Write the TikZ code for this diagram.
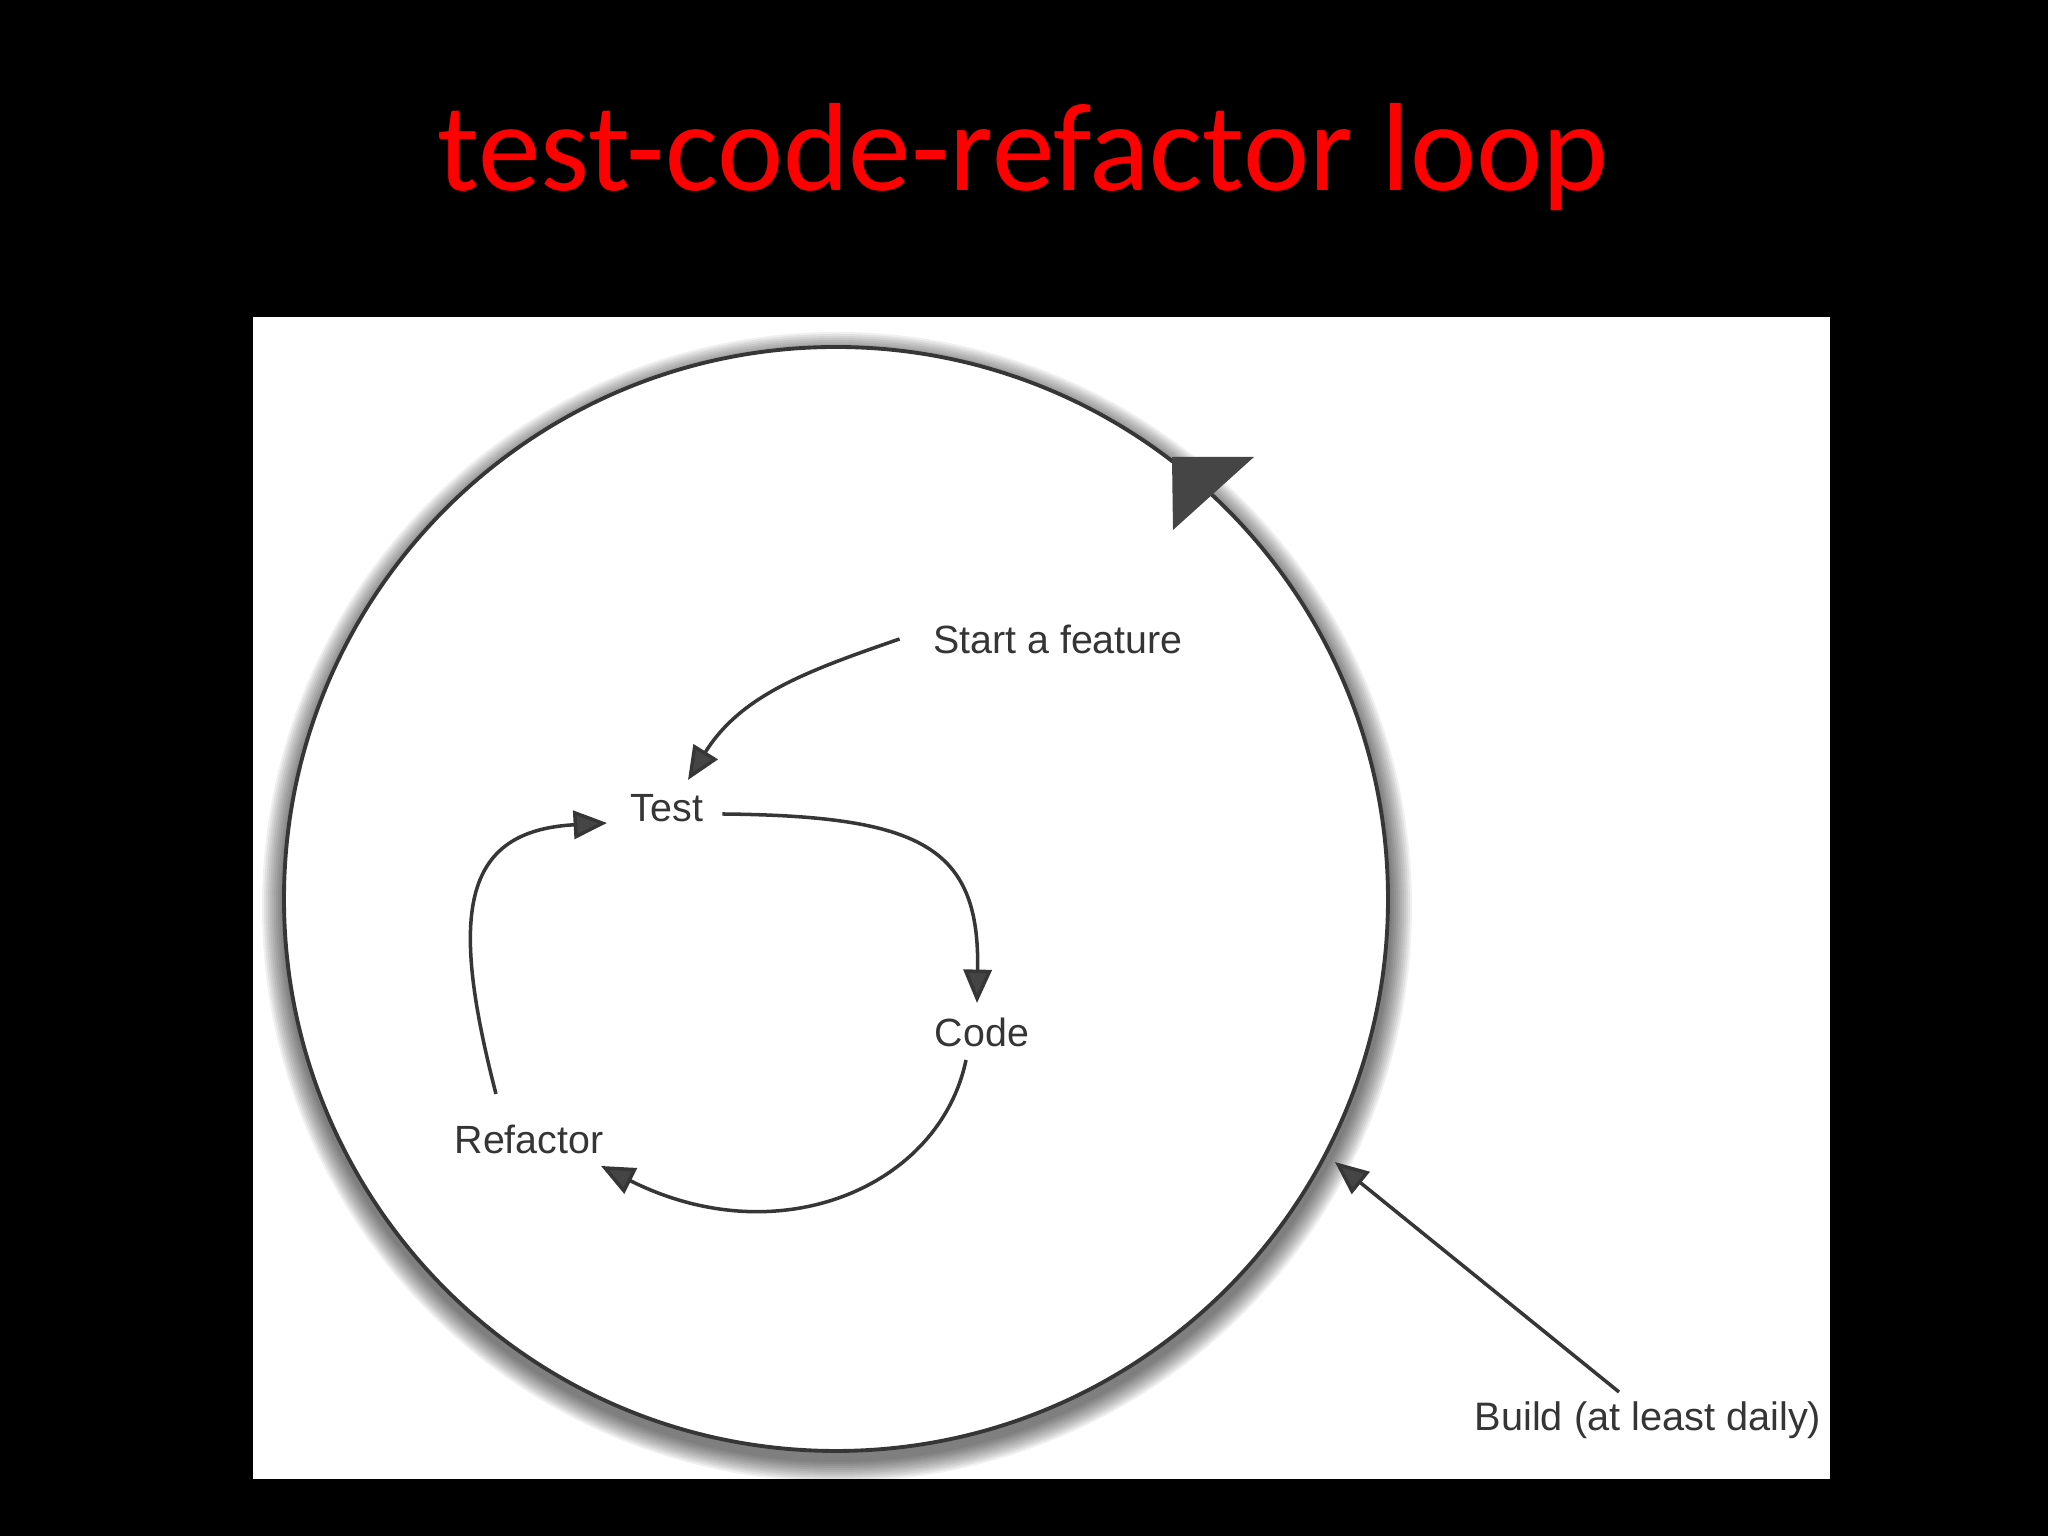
\documentclass[tikz,border=0pt]{standalone}
\usepackage{fontspec}
\setmainfont{Liberation Sans}
\newfontfamily\titlefont{Carlito}
\usepackage{tikz}
\usetikzlibrary{positioning,calc,arrows.meta}
\definecolor{Ink}{HTML}{363636}
\definecolor{InkText}{HTML}{353535}
\definecolor{TitleRed}{HTML}{FF0000}
\definecolor{Head}{HTML}{454545}

\begin{document}
\begin{tikzpicture}[
	flowlabel/.style={
		text=InkText,
		inner sep=0pt,
		font=\fontsize{11.2}{13}\selectfont
	},
	flowarrow/.style={
		draw=Ink,
		line width=1pt,
		-{Triangle[length=9.5pt,width=8pt,fill=Head]}
	}
	]
	
	% ---------------------------------------------------------
	% SLIDE
	% ---------------------------------------------------------
	
	\fill[black] (0,0) rectangle (20.48,15.36);
	
	\node[
	text=TitleRed,
	font=\titlefont\fontsize{35.7}{42}\selectfont,
	anchor=base,
	inner sep=0pt
	]
	(title) at (10.23,13.45)
	{test-code-refactor loop};
	
	\fill[white] (2.53,0.57) rectangle (18.30,12.19);
	
	% ---------------------------------------------------------
	% BUILD LOOP
	% ---------------------------------------------------------
	
	\begin{scope}
		\clip (2.53,0.57) rectangle (18.30,12.19);
		\foreach \i in {0,...,10}
		\fill[black,opacity=0.06] (8.37,6.29) circle ({5.75-0.02*\i});
	\end{scope}
	
	\node[
	circle,
	draw=Ink,
	fill=white,
	line width=1.1pt,
	minimum size=11.04cm,
	inner sep=0pt
	]
	(loop) at (8.36,6.37)
	{};
	
	% arrowhead on the loop
	\fill[Head]
	($(loop.center)+(3.36,4.42)$) -- ++(0.82,0) -- ++(-0.81,-0.73) -- cycle;
	
	% ---------------------------------------------------------
	% LABELS
	% ---------------------------------------------------------
	
	\node[flowlabel] (start) at (10.58,8.97) {Start a feature};
	
	\node[flowlabel] (test) at (6.67,7.28) {Test};
	
	\node[flowlabel] (code) at (9.82,5.04) {Code};
	
	\node[flowlabel] (refactor) at (5.29,3.97) {Refactor};
	
	\node[
	flowlabel,
	font=\fontsize{11.3}{14}\selectfont
	]
	(build) at (16.48,1.16)
	{Build (at least daily)};
	
	\coordinate (hit) at ($(loop.center)+(-27.8:5.64)$);
	
	% ---------------------------------------------------------
	% ARROWS
	% ---------------------------------------------------------
	
	\draw[flowarrow]
	([xshift=-3.3mm]start.west) to[out=199,in=58] ([shift={(0.21,0.28)}]test.center);
	
	\draw[flowarrow]
	([shift={(0.185,-0.06)}]test.east) .. controls +(1.98,-0.02) and +(0.03,1.57) .. ([shift={(-0.05,0.29)}]code.center);
	
	\draw[flowarrow]
	([shift={(-0.16,-0.28)}]code.center) .. controls +(-0.26,-1.26) and +(1.79,-0.90) .. ([shift={(0.72,-0.27)}]refactor.center);
	
	\draw[flowarrow]
	([shift={(-0.33,0.45)}]refactor.center) .. controls +(-0.46,1.78) and +(-1.47,-0.08) .. ([shift={(-0.60,-0.15)}]test.center);
	
	\draw[flowarrow]
	([shift={(-0.29,0.28)}]build.center) -- (hit);
	
\end{tikzpicture}
\end{document}
